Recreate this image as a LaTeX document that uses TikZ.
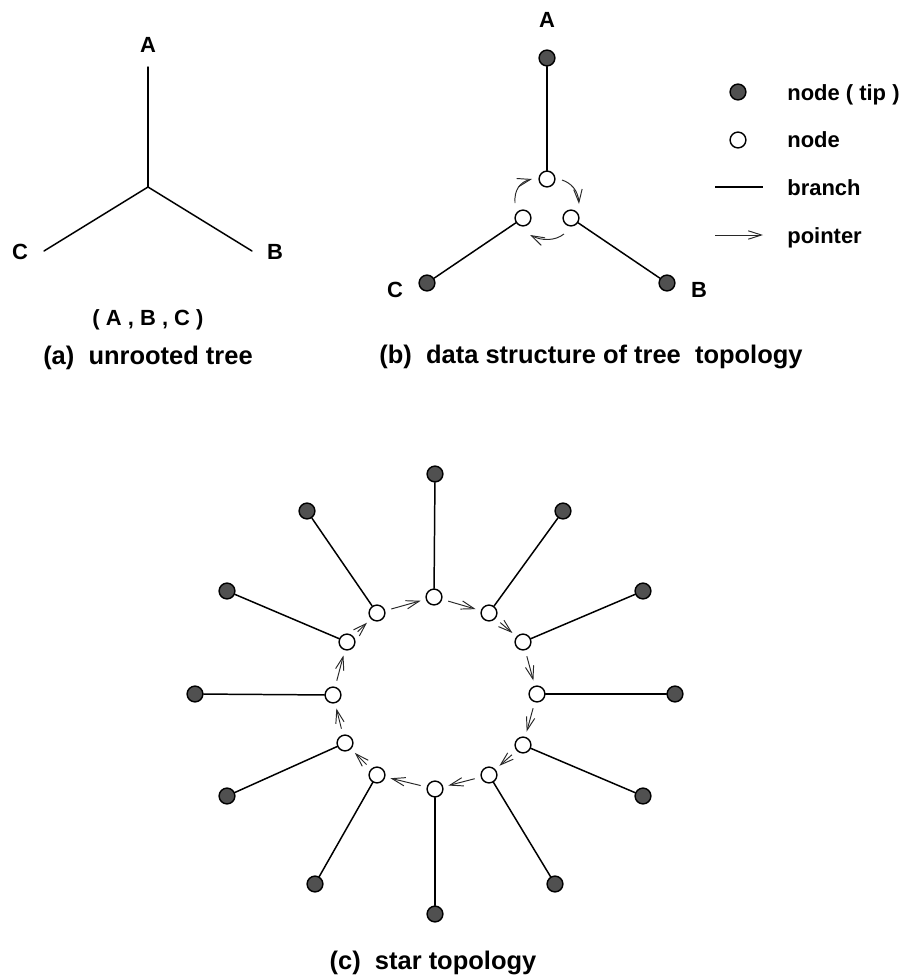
\documentclass[tikz,border=0pt]{standalone}
\usepackage{fontspec}
\setmainfont{Liberation Sans}
\usetikzlibrary{arrows.meta}
\definecolor{tipfill}{RGB}{80,80,80}
\definecolor{ptrcol}{RGB}{40,40,40}
\tikzset{
  tipnode/.style={circle,draw=black,fill=tipfill,line width=0.8pt,minimum size=9pt,inner sep=0pt},
  innode/.style={circle,draw=black,fill=white,line width=0.8pt,minimum size=9pt,inner sep=0pt},
  branch/.style={line width=0.85pt,line cap=round},
  ptr/.style={line width=0.55pt,draw=ptrcol,-{Straight Barb[length=7.5pt,width=4.8pt,line width=0.55pt]}},
  lbl/.style={font=\fontsize{12.5}{15}\selectfont\bfseries,inner sep=0pt,anchor=base},
  caption/.style={font=\fontsize{14.5}{17}\selectfont\bfseries,inner sep=0pt,anchor=base},
}
\begin{document}
\begin{tikzpicture}[x=0.02cm,y=-0.02cm]
\useasboundingbox (0,0) rectangle (902,978);

% ---------- (a) unrooted tree ----------
\coordinate (ac) at (148,187);
\coordinate (aA) at (148,67);
\coordinate (aB) at (252,251);
\coordinate (aC) at (44,251);
\draw[branch] (ac) -- (aA);
\draw[branch] (ac) -- (aB);
\draw[branch] (ac) -- (aC);
\node[lbl] (laA) at (148,52) {A};
\node[lbl] (laB) at (275,259) {B};
\node[lbl] (laC) at (20,259) {C};
\node[lbl] (abc) at (148,325) {( A , B , C )};
\node[caption] (capa) at (148,364) {(a)\ \ unrooted tree};

% ---------- (b) data structure ----------
\node[tipnode] (bA) at (547,58) {};
\node[tipnode] (bB) at (667,283) {};
\node[tipnode] (bC) at (427,283) {};
\node[innode] (bt) at (547,179) {};
\node[innode] (bl) at (523,218) {};
\node[innode] (br) at (571,218) {};
\draw[branch] (bA) -- (bt);
\draw[branch] (bl) -- (bC);
\draw[branch] (br) -- (bB);
\coordinate (p1s) at (515,203);
\coordinate (p1e) at (532,179);
\coordinate (p2s) at (562,180);
\coordinate (p2e) at (579,204);
\coordinate (p3s) at (564,234);
\coordinate (p3e) at (530,235);
\draw[ptr] (p1s) .. controls (514,190) and (520,182) .. (p1e);
\draw[ptr] (p2s) .. controls (571,183) and (578,190) .. (p2e);
\draw[ptr] (p3s) .. controls (555,241) and (542,241) .. (p3e);
\node[lbl] (lbA) at (547,27) {A};
\node[lbl] (lbB) at (699,297) {B};
\node[lbl] (lbC) at (395,297) {C};
\node[caption] (capb) at (591,363) {(b)\ \ data structure of tree\ \ topology};

% legend
\node[tipnode] (lgtip) at (738,92) {};
\node[lbl,anchor=base west] (lgt1) at (787,100) {node ( tip )};
\node[innode] (lgin) at (738,140) {};
\node[lbl,anchor=base west] (lgt2) at (787,147) {node};
\coordinate (lgb1) at (715,187);
\coordinate (lgb2) at (763,187);
\draw[branch,line cap=butt] (lgb1) -- (lgb2);
\node[lbl,anchor=base west] (lgt3) at (787,195) {branch};
\coordinate (lgp1) at (715,235);
\coordinate (lgp2) at (763,235);
\draw[ptr] (lgp1) -- (lgp2);
\node[lbl,anchor=base west] (lgt4) at (787,243) {pointer};

% ---------- (c) star topology ----------
\foreach \i/\nx/\ny/\tx/\ty in {
  0/434/597/435/474,
  1/489/613/563/511,
  2/523/642/643/591,
  3/537/694/675/694,
  4/523/745/643/796,
  5/489/775/555/884,
  6/435/789/435/914,
  7/377/775/315/884,
  8/345/743/227/796,
  9/333/695/195/694,
  10/347/642/227/591,
  11/377/613/307/511}{
  \node[innode] (n\i) at (\nx,\ny) {};
  \node[tipnode] (t\i) at (\tx,\ty) {};
  \draw[branch] (t\i) -- (n\i);
}
\foreach \i [evaluate=\i as \j using {int(mod(\i+1,12))}] in {0,...,11}{
  \draw[ptr,shorten <=3.5pt,shorten >=3pt] (n\i) -- (n\j);
}
\node[caption] (capc) at (433,969) {(c)\ \ star topology};
\end{tikzpicture}
\end{document}
